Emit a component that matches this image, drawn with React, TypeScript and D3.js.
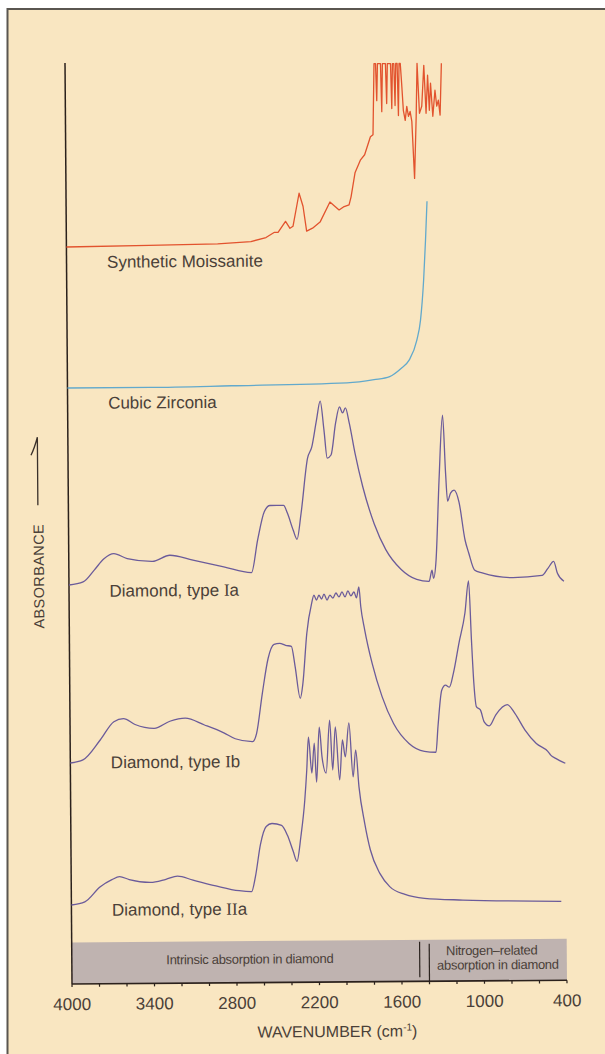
import * as d3 from 'd3'

type Pt = [number, number]

// wavenumber (cm-1), absorbance (arbitrary units, spectra stacked on one axis)
const moissanite: Pt[] = [
  [4000, 73.7], [3400, 73.8], [2900, 73.9], [2658, 74.1], [2548, 74.5], [2489, 75.0], [2460, 75.0],
  [2405, 76.1], [2373, 75.4], [2351, 75.6], [2305, 78.9], [2277, 77.6], [2252, 75.1], [2209, 75.4],
  [2154, 76.0], [2081, 78.0], [2015, 77.2], [1983, 77.5], [1942, 77.7], [1927, 78.5], [1897, 80.9],
  [1856, 82.2], [1826, 82.7], [1783, 84.5], [1764, 84.7], [1753, 91.8], [1742, 91.8], [1735, 88.1],
  [1728, 91.8], [1706, 91.8], [1699, 87.0], [1692, 91.8], [1670, 91.8], [1663, 87.8], [1656, 91.8],
  [1633, 91.8], [1626, 87.3], [1619, 91.8], [1609, 91.8], [1602, 87.6], [1595, 91.8], [1585, 91.8],
  [1578, 86.6], [1571, 91.8], [1562, 91.8], [1553, 89.8], [1542, 87.1], [1529, 86.1], [1517, 87.5],
  [1505, 86.5], [1493, 87.0], [1481, 86.0], [1464, 80.3], [1449, 86.5], [1440, 91.8], [1425, 86.8],
  [1408, 87.5], [1391, 91.6], [1377, 86.8], [1364, 90.6], [1353, 87.1], [1343, 89.8], [1328, 86.5],
  [1311, 89.1], [1299, 87.5], [1287, 88.1], [1275, 86.6], [1263, 91.8],
]

const cubicZirconia: Pt[] = [
  [4000, 59.6], [3400, 59.6], [2807, 59.7], [1967, 59.9], [1770, 60.2], [1656, 60.5], [1573, 61.3],
  [1515, 62.1], [1457, 64.1], [1429, 66.1], [1404, 70.1], [1388, 74.1], [1375, 78.0],
]

const diamondIa: Pt[] = [
  [4000, 39.9], [3897, 40.2], [3814, 41.4], [3744, 42.5], [3672, 43.0], [3575, 42.5], [3392, 42.2],
  [3265, 42.8], [3097, 42.3], [2873, 41.6], [2672, 41.0], [2625, 44.3], [2575, 47.1], [2534, 47.7],
  [2435, 47.7], [2407, 46.9], [2366, 45.2], [2339, 44.3], [2308, 46.9], [2258, 52.4], [2227, 53.5],
  [2191, 56.2], [2163, 58.1], [2137, 55.2], [2115, 52.4], [2087, 52.7], [2052, 55.9], [2023, 57.5],
  [2001, 56.9], [1980, 57.4], [1953, 55.9], [1913, 52.9], [1858, 49.5], [1777, 45.8], [1694, 43.2],
  [1583, 41.2], [1471, 40.2], [1381, 40.0], [1359, 41.1], [1348, 40.3], [1329, 42.1], [1303, 50.1],
  [1274, 56.6], [1255, 50.8], [1242, 48.0], [1220, 48.8], [1194, 49.1], [1159, 47.9], [1117, 44.1],
  [1091, 42.8], [1050, 41.1], [994, 40.8], [770, 40.3], [559, 40.5], [516, 41.2], [474, 41.9],
  [447, 40.7], [400, 39.9],
]

const diamondIb: Pt[] = [
  [4000, 22.1], [3908, 22.4], [3780, 24.4], [3681, 26.2], [3611, 26.5], [3527, 25.9], [3388, 25.5],
  [3274, 26.2], [3162, 26.5], [3022, 25.8], [2882, 25.0], [2799, 24.4], [2673, 24.1], [2644, 24.9],
  [2600, 28.9], [2556, 32.4], [2512, 33.8], [2471, 33.9], [2428, 33.7], [2386, 33.6], [2360, 31.6],
  [2324, 28.4], [2304, 29.9], [2273, 34.9], [2236, 37.9], [2219, 38.7], [2201, 38.2], [2183, 38.7],
  [2164, 38.3], [2146, 38.8], [2124, 38.2], [2103, 38.7], [2081, 38.4], [2059, 38.9], [2037, 38.5],
  [2015, 39.0], [1993, 38.5], [1972, 39.1], [1950, 38.6], [1928, 39.0], [1910, 38.4], [1892, 39.5],
  [1879, 37.5], [1852, 35.2], [1799, 31.8], [1729, 28.5], [1647, 25.8], [1536, 23.8], [1424, 23.0],
  [1340, 22.9], [1324, 25.5], [1295, 29.1], [1267, 29.6], [1239, 29.4], [1209, 30.8], [1167, 33.8],
  [1122, 36.8], [1094, 40.0], [1076, 34.1], [1061, 29.8], [1043, 27.4], [1015, 27.1], [988, 25.9],
  [951, 25.5], [903, 26.6], [819, 27.6], [763, 26.7], [694, 25.1], [610, 23.7], [527, 22.9],
  [504, 22.5], [470, 22.2], [400, 21.7],
]

const diamondIIa: Pt[] = [
  [4000, 7.9], [3902, 8.2], [3789, 9.7], [3704, 10.4], [3648, 10.7], [3578, 10.4], [3423, 10.1],
  [3311, 10.4], [3227, 10.7], [3114, 10.3], [2948, 9.7], [2779, 9.2], [2689, 9.1], [2660, 10.6],
  [2622, 13.8], [2579, 15.6], [2537, 15.9], [2467, 15.7], [2425, 14.7], [2384, 13.1], [2357, 12.1],
  [2327, 14.6], [2297, 18.2], [2281, 21.2], [2267, 24.5], [2244, 20.9], [2225, 23.9], [2210, 20.0],
  [2188, 25.5], [2169, 22.5], [2140, 20.9], [2112, 26.2], [2092, 21.2], [2071, 25.5], [2042, 20.2],
  [2020, 24.2], [2000, 22.5], [1972, 25.9], [1944, 20.5], [1924, 23.2], [1902, 19.5], [1863, 15.9],
  [1823, 13.2], [1754, 10.8], [1684, 9.5], [1573, 8.7], [1432, 8.3], [1152, 8.1], [437, 7.9],
]

const tickLabels = [4000, 3400, 2800, 2200, 1600, 1000, 400]
const minorTicks = d3.range(4000, 399, -200)
const regionSplit = [1470, 1400]

const W = 605
const H = 1054
const ink = '#4a4038'
const sans = '"Liberation Sans", Arial, sans-serif'
const serif = '"Liberation Serif", serif'

// "type Ia" etc: the roman numeral is set in a serif face
function Label({ x, y, text, numeral, tail }: { x: number, y: number, text: string, numeral?: string, tail?: string }) {
  return (
    <text x={x} y={y} fontFamily={sans} fontSize={17} fill={ink}>
      {text}
      {numeral && <tspan fontFamily={serif}>{numeral}</tspan>}
      {tail}
    </text>
  )
}

export default function App() {
  const x = d3.scaleLinear().domain([4000, 400]).range([72, 567])
  const y = d3.scaleLinear().domain([0, 92.1]).range([984, 63])

  const smooth = d3.line<Pt>().x(d => x(d[0])).y(d => y(d[1])).curve(d3.curveMonotoneX)
  const sharp = d3.line<Pt>().x(d => x(d[0])).y(d => y(d[1]))

  const purple = '#6b5b9a'
  const series = [
    { data: moissanite, color: '#e2532e', path: sharp },
    { data: cubicZirconia, color: '#62a9cc', path: smooth },
    { data: diamondIa, color: purple, path: smooth },
    { data: diamondIb, color: purple, path: smooth },
    { data: diamondIIa, color: purple, path: smooth },
  ]

  const bandTop = 942.5
  const lx = 112.5

  return (
    <svg width={W} height={H} style={{ position: 'absolute', left: 0, top: 0, display: 'block' }}>
      <rect width={W} height={H} fill="#ffffff" />
      <rect x={8} y={9} width={W - 8} height={H - 9} fill="#f9e6c1" />
      <line x1={7.5} y1={8} x2={7.5} y2={H} stroke="#5a5650" strokeWidth={2} />
      <line x1={7} y1={9} x2={W} y2={9} stroke="#5a5650" strokeWidth={2} />

      {/* the scanned figure sits slightly askew */}
      <g transform="rotate(-0.435, 72, 984)">
        <rect x={x(4000)} y={bandTop} width={x(400) - x(4000)} height={y(0) - bandTop} fill="#bfb3b0" />
        <line x1={x(regionSplit[0])} x2={x(regionSplit[0])} y1={bandTop + 2} y2={y(0) - 4} stroke="#2b231e" strokeWidth={1.2} />
        <line x1={x(regionSplit[1])} x2={x(regionSplit[1])} y1={bandTop + 4} y2={y(0)} stroke="#2b231e" strokeWidth={1.2} />
        <text x={250} y={965} textAnchor="middle" fontFamily={sans} fontSize={13} letterSpacing={-0.3} fill={ink}>
          Intrinsic absorption in diamond
        </text>
        <text x={492} y={958} textAnchor="middle" fontFamily={sans} fontSize={13} letterSpacing={-0.3} fill={ink}>
          Nitrogen–related
        </text>
        <text x={498} y={972.5} textAnchor="middle" fontFamily={sans} fontSize={13} letterSpacing={-0.3} fill={ink}>
          absorption in diamond
        </text>

        <line x1={x(4000)} x2={x(4000)} y1={y(92.1)} y2={y(0)} stroke="#2b211c" strokeWidth={1.5} />
        <line x1={x(4000)} x2={x(400)} y1={y(0)} y2={y(0)} stroke="#2b211c" strokeWidth={1.6} />
        {minorTicks.map(t => (
          <line key={t} x1={x(t)} x2={x(t)} y1={y(0)} y2={y(0) + 3} stroke="#2b211c" strokeWidth={1.2} />
        ))}
        {tickLabels.map(t => (
          <text key={t} x={x(t)} y={1010} textAnchor="middle" fontFamily={sans} fontSize={17} fill={ink}>{t}</text>
        ))}
        <text x={337} y={1039} textAnchor="middle" fontFamily={sans} fontSize={16} fill={ink}>
          WAVENUMBER (cm<tspan dy={-6} fontSize={10}>-1</tspan><tspan dy={6}>)</tspan>
        </text>

        <text transform="translate(47,576) rotate(-90)" textAnchor="middle" fontFamily={sans} fontSize={14.5} letterSpacing={0.4} fill={ink}>
          ABSORBANCE
        </text>
        <path d="M35,455 Q38.5,448 41.5,437 L41.5,505" fill="none" stroke="#3a302a" strokeWidth={1.3} />

        {series.map((s, i) => (
          <path key={i} d={s.path(s.data) ?? ''} fill="none" stroke={s.color} strokeWidth={1.3} strokeLinejoin="round" />
        ))}

        <Label x={lx} y={268} text="Synthetic Moissanite" />
        <Label x={lx} y={409} text="Cubic Zirconia" />
        <Label x={lx} y={597} text="Diamond, type " numeral="I" tail="a" />
        <Label x={lx} y={768.5} text="Diamond, type " numeral="I" tail="b" />
        <Label x={lx} y={916} text="Diamond, type " numeral="II" tail="a" />
      </g>
    </svg>
  )
}
